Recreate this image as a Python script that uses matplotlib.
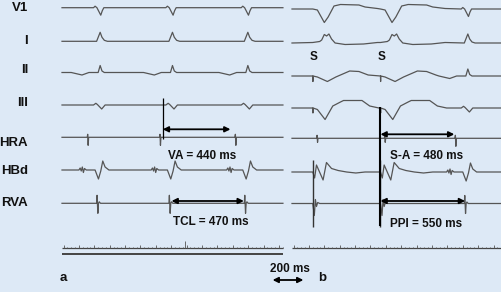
import numpy as np
import matplotlib.pyplot as plt

# fonts: Arial-like bold labels
plt.rcParams['font.family'] = ['Liberation Sans', 'DejaVu Sans']
plt.rcParams['font.weight'] = 'bold'

BG = '#dde9f6'
TRACE = '#555555'
INK = '#111111'

MS_PER_PX = 6.5          # paper speed of the recording
X0_PX = 62               # left edge of panel a (px)

# ---------------------------------------------------------------------------
# data
# ---------------------------------------------------------------------------
LEADS = ['V1', 'I', 'II', 'III', 'HRA', 'HBd', 'RVA']
LABEL_Y = [8, 41, 70, 103, 142.5, 171.5, 203]

# panel a: spontaneous tachycardia, beats referenced to RVA activation (ms)
BEATS_A = [230, 700, 1190]
LEN_A = 1436
BASE_A = [7.7, 41.3, 72.5, 105, 137.3, 170, 203.3]

# panel b: entrainment from RVA, two paced beats then first return beat (ms)
STIM_B = [135, 575]
BEATS_B = [1125]
LEN_B = 1365
BASE_B = [9, 43, 76, 108, 138.3, 172, 203.5]
OFFSET_B = 1495

# beat shapes: (ms from reference, amplitude, up = positive)
SPONT = {
    'V1':  [(-25, 0), (-15, 1.5), (-3, 0), (22, -7.5), (32, -3), (42, 0)],
    'I':   [(-5, 0), (18, 9), (30, 4), (45, 1), (65, 0)],
    'II':  [(-170, 0), (-100, -2.5), (-55, 0), (5, 0), (18, 7), (30, 1.5), (45, 0)],
    'III': [(-25, 0), (-10, 1.7), (0, 0.5), (28, -4), (50, 0)],
    'HRA': [(-66, 0), (-63, 3), (-60, -8), (-57, 0)],
    'HBd': [(-120, 0), (-112, 2), (-105, -1), (-98, 3), (-91, -2.5), (-84, 1.5),
            (-72, 0), (-15, 0), (7, -9), (22, -1), (35, 9), (50, 3), (75, 0)],
    'RVA': [(-5, 0), (-2, 8), (3, -10), (7, 0), (12, 1.5), (20, 0)],
}
PACED = {
    'V1':  [(0, 0), (30, -1), (75, -13.5), (100, -8), (138, 3), (180, 4.5),
            (300, 4), (340, 2), (420, 0.5)],
    'I':   [(0, 0.5), (45, 1.5), (58, 3), (75, 8.5), (90, 7), (105, 9), (122, 4),
            (145, 0), (210, -1.5), (330, -1), (420, 0.5)],
    'II':  [(0, 0), (1, -5.5), (2, 0), (30, -1), (95, -5.5), (150, -1), (240, 5),
            (300, 4.5), (360, 1)],
    'III': [(0, 0), (1, -5), (2, 0), (30, -1.5), (80, -11.5), (130, 2), (180, 6),
            (200, 7.5), (320, 7.5), (370, 2), (430, 0)],
    'HRA': [(25, 0), (28, 3), (31, -4), (34, 0)],
    'HBd': [(0, 0), (12, -6), (24, 7), (67, -8), (89, 9.5), (122, 3.5), (165, 1.5),
            (220, 0), (280, -1), (340, 0)],
    'RVA': [(0, 0), (10, -12), (17, 4), (24, -3), (32, 1), (45, 0)],
}

# interval annotations: panel, start (ms), length (ms), arrow y, text, text x (ms), text y
INTERVALS = [
    ('a', 655, 440, 129.3, 'VA = 440 ms', 689, 156),
    ('a', 712, 470, 201.0, 'TCL = 470 ms', 721, 222),
    ('b', 575, 480, 134.3, 'S-A = 480 ms', 637, 156),
    ('b', 575, 550, 201.0, 'PPI = 550 ms', 637, 224),
]


def build(beats, length, base):
    xs, ys = [0], [0]
    for t0, shape in beats:
        for dt, amp in shape:
            xs.append(t0 + dt)
            ys.append(amp)
    xs.append(length)
    ys.append(0)
    return np.array(xs, float), base - np.array(ys, float)


def double_arrow(ax, x0, x1, y, lw=1.3):
    ax.annotate('', xy=(x1, y), xytext=(x0, y),
                arrowprops=dict(arrowstyle='<|-|>', color='black', lw=lw,
                                mutation_scale=8, shrinkA=0, shrinkB=0))


fig = plt.figure(figsize=(5.02, 2.92), dpi=100, facecolor=BG)
ax = fig.add_axes([0, 0, 1, 1])
ax.set_facecolor(BG)
ax.set_xlim(-X0_PX * MS_PER_PX, (502 - X0_PX) * MS_PER_PX)
ax.set_ylim(292, 0)
ax.axis('off')

# traces
for i, lead in enumerate(LEADS):
    x, y = build([(t, SPONT[lead]) for t in BEATS_A], LEN_A, BASE_A[i])
    ax.plot(x, y, color=TRACE, lw=0.9)
    beats_b = [(t, PACED[lead]) for t in STIM_B] + [(t, SPONT[lead]) for t in BEATS_B]
    x, y = build(beats_b, LEN_B, BASE_B[i])
    ax.plot(x + OFFSET_B, y, color=TRACE, lw=0.9)
    ax.text(28 * MS_PER_PX - X0_PX * MS_PER_PX, LABEL_Y[i], lead, ha='right',
            va='center', fontsize=9.5, color=INK)

# pacing artifacts on HBd / RVA and "S" marks
for s in STIM_B:
    ax.vlines(s + OFFSET_B, 160, 226.5, color='#333333', lw=1.0)
    ax.text(s + OFFSET_B + 8, 57, 'S', ha='center', va='center', fontsize=8.5, color=INK)

# reference markers
ax.vlines(655, 97.5, 138.5, color='black', lw=0.9)
ax.vlines(STIM_B[1] + OFFSET_B, 107, 226, color='black', lw=1.5)

for panel, start, length, ya, label, tx, ty in INTERVALS:
    off = OFFSET_B if panel == 'b' else 0
    double_arrow(ax, start + off, start + length + off, ya)
    ax.text(tx + off, ty, label, ha='left', va='center', fontsize=8.5, color=INK)

# time lines with ms ticks
for off, length, lines in [(0, LEN_A, [(248.3, 0.9), (254.3, 1.4)]),
                           (OFFSET_B, LEN_B, [(248.3, 0.9)])]:
    for yl, lw in lines:
        ax.hlines(yl, off, off + length, color='#444444', lw=lw)
    ticks = np.arange(10, length, 25)
    heights = np.where(np.arange(len(ticks)) % 4 == 0, 3.0, 1.6)
    ax.vlines(ticks + off, 248.3 - heights, 248.3, color='#555555', lw=0.6)
ax.vlines(800, 241, 248.3, color='#555555', lw=0.6)

# 200 ms calibration
double_arrow(ax, 1369, 1569, 280, lw=1.3)
ax.text(1482, 269, '200 ms', ha='center', va='center', fontsize=8.5, color=INK)

# panel letters
ax.text(6.5, 278, 'a', ha='center', va='center', fontsize=9.5, color=INK)
ax.text(1690, 278, 'b', ha='center', va='center', fontsize=9.5, color=INK)

fig.savefig('out.png', dpi=100, facecolor=BG)
